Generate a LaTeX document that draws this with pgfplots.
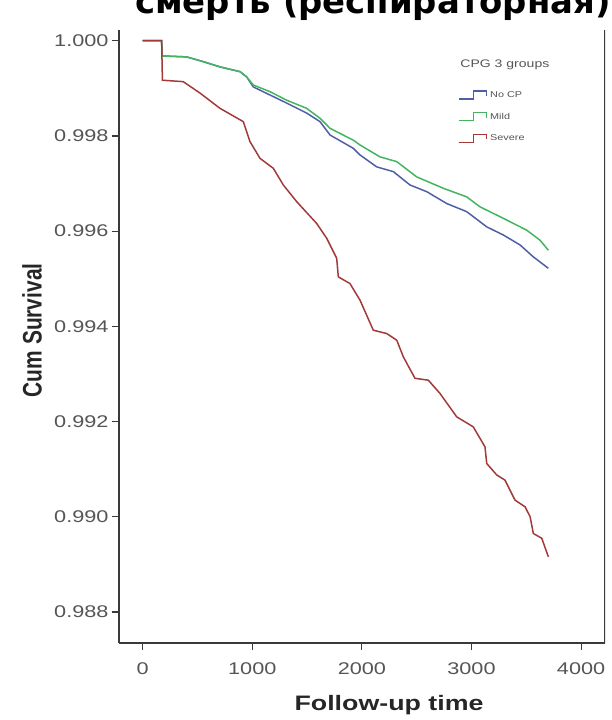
\documentclass[border=0pt]{standalone}
\usepackage{fontspec}
\setmainfont{Liberation Sans}
\newfontfamily\wide[FakeStretch=1.28]{Liberation Sans}
\newfontfamily\titlefont{DejaVu Sans}
\usepackage{graphicx}
\usepackage{pgfplots}
\pgfplotsset{compat=1.18}
\definecolor{cpblue}{HTML}{4F5FA6}
\definecolor{cpgreen}{HTML}{43B560}
\definecolor{cpred}{HTML}{A33A3A}
\definecolor{txtgray}{HTML}{555555}
\definecolor{axgray}{HTML}{3A3A3A}
\begin{document}
\begin{tikzpicture}
\useasboundingbox (0bp,0bp) rectangle (612bp,720bp);
\node[anchor=base west, inner sep=0pt, font=\fontsize{34}{34}\selectfont\titlefont\bfseries] at (135bp,706bp) {смерть (респираторная)};
\begin{axis}[
  at={(119bp,77bp)}, anchor=south west,
  scale only axis, width=486bp, height=613bp,
  xmin=-216, xmax=4218, ymin=0.98735, ymax=1.000225,
  axis x line*=bottom, axis y line*=left,
  axis line style={-, draw=axgray, line width=1.6bp},
  xtick={0,1000,2000,3000,4000},
  ytick={0.988,0.990,0.992,0.994,0.996,0.998,1.000},
  tick align=outside, major tick length=7bp,
  tick style={draw=axgray, line width=1.2bp},
  scaled y ticks=false, scaled x ticks=false,
  yticklabel style={/pgf/number format/.cd, fixed, fixed zerofill, precision=3},
  xticklabel style={yshift=-9bp, /pgf/number format/.cd, fixed, 1000 sep={}},
  /pgf/number format/assume math mode=true,
  tick label style={font=\fontsize{17}{17}\selectfont\wide, text=txtgray},
  xlabel={Follow-up time},
  ylabel={\scalebox{1}[1.28]{Cum Survival}},
  x label style={font=\fontsize{21}{21}\selectfont\wide\bfseries, text=black!85},
  y label style={font=\fontsize{21}{21}\selectfont\bfseries, text=black!85},
  every axis x label/.append style={at={(axis description cs:0.5556,-0.101)}, anchor=center},
  every axis y label/.append style={at={(axis description cs:-0.179,0.51)}, anchor=center},
  legend style={draw=none, fill=none, at={(axis description cs:0.6975,0.9116)}, anchor=north west,
    inner sep=0pt, outer sep=0pt, row sep=0pt,
    font=\fontsize{8.5}{8.5}\selectfont\wide, text=txtgray,
    nodes={inner ysep=0pt, inner xsep=3bp, minimum height=21.7bp}},
  legend cell align=left,
  legend image code/.code={\draw[#1, line width=1.2bp] (0bp,-4bp) -- (15bp,-4bp) -- (15bp,4bp) -- (28bp,4bp) -- (28bp,-1bp);},
]
\addplot[cpblue, line width=1.5bp] coordinates {
(0,1.0) (173,1.0) (178,0.99968) (401,0.99966) (553,0.99956) (705,0.99945) (888,0.99935) (949,0.99924)
(1009,0.99903) (1161,0.99886) (1314,0.99869) (1496,0.99848) (1618,0.99830) (1709,0.99802)
(1922,0.99774) (1983,0.99760) (2135,0.99735) (2287,0.99725) (2439,0.99697) (2591,0.99683)
(2774,0.99658) (2956,0.99641) (3139,0.99609) (3290,0.99592) (3443,0.99571) (3564,0.99546) (3701,0.99522)};
\addlegendentry{No CP}
\addplot[cpgreen, line width=1.5bp] coordinates {
(0,1.0) (173,1.0) (178,0.99968) (401,0.99966) (553,0.99956) (705,0.99945) (888,0.99935) (949,0.99924)
(1009,0.99907) (1161,0.99893) (1314,0.99875) (1496,0.99858) (1618,0.99837) (1709,0.99816)
(1922,0.99791) (1983,0.99781) (2165,0.99756) (2318,0.99746) (2500,0.99714) (2743,0.99690)
(2956,0.99672) (3078,0.99651) (3290,0.99627) (3504,0.99602) (3625,0.99581) (3701,0.99560)};
\addlegendentry{Mild}
\addplot[cpred, line width=1.5bp] coordinates {
(0,1.0) (173,1.0) (180,0.99917) (370,0.99914) (523,0.99890) (705,0.99858) (918,0.99830)
(979,0.99788) (1070,0.99753) (1192,0.99732) (1283,0.99697) (1405,0.99662) (1588,0.99616)
(1679,0.99585) (1770,0.99543) (1785,0.99504) (1891,0.99490) (1983,0.99455) (2104,0.99392)
(2226,0.99385) (2318,0.99371) (2378,0.99336) (2484,0.99291) (2606,0.99287) (2713,0.99259)
(2865,0.99210) (3016,0.99189) (3123,0.99147) (3139,0.99112) (3230,0.99088) (3306,0.99077)
(3397,0.99035) (3489,0.99021) (3535,0.99000) (3564,0.98965) (3641,0.98955) (3701,0.98916)};
\addlegendentry{Severe}
\draw[axgray, line width=1.6bp] (rel axis cs:1,0) -- (rel axis cs:1,1);
\node[font=\fontsize{11}{11}\selectfont\wide, text=txtgray] at (axis description cs:0.794,0.943) {CPG 3 groups};
\end{axis}
\end{tikzpicture}
\end{document}
